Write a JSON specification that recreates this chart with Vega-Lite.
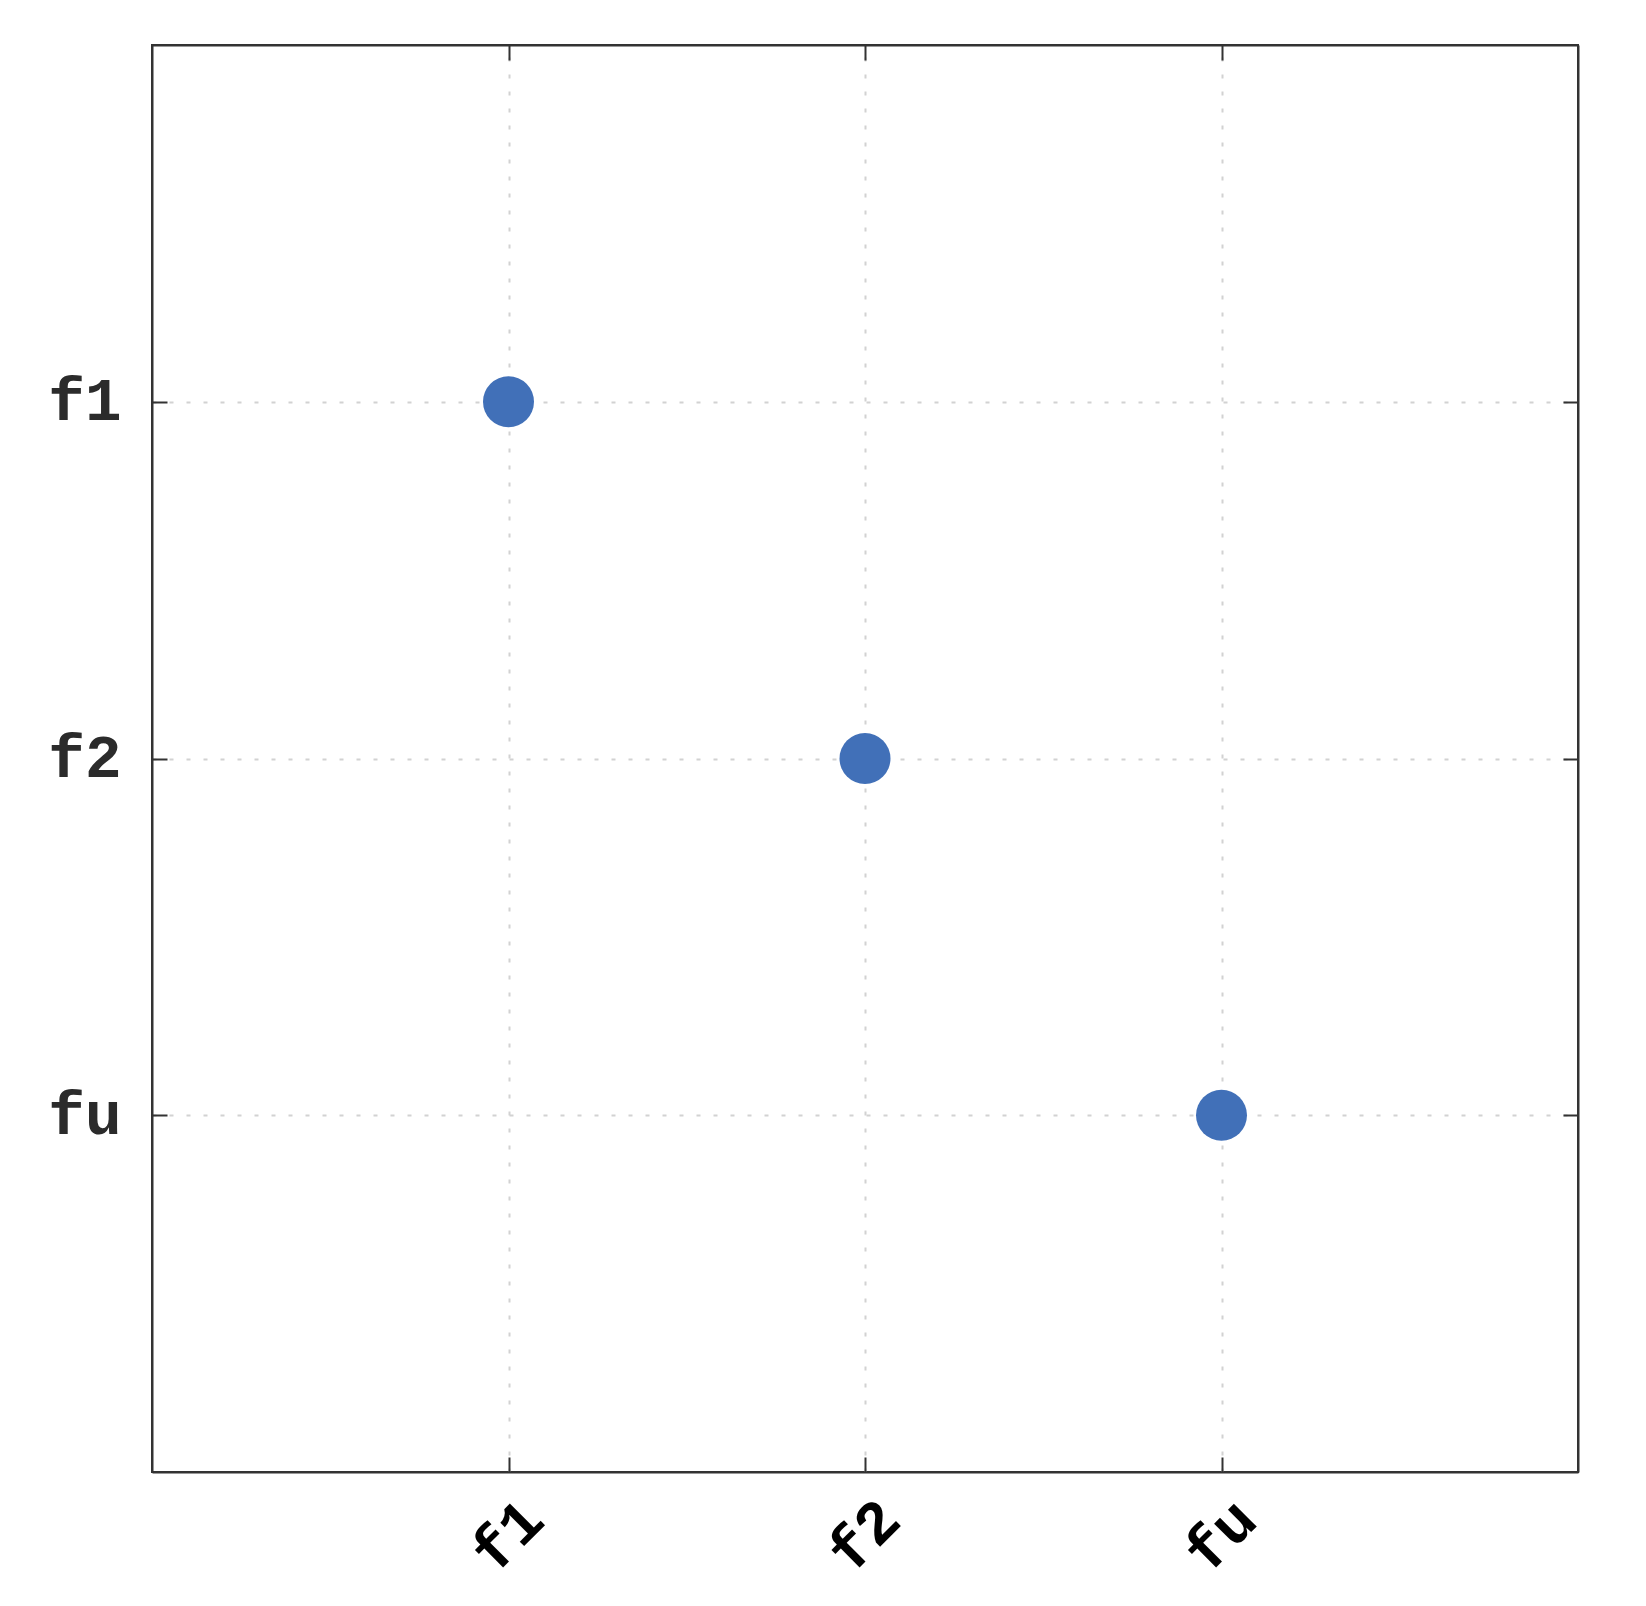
{
  "$schema": "https://vega.github.io/schema/vega-lite/v6.json",
  "autosize": "none",
  "width": 1426,
  "height": 1427,
  "padding": {"left": 152, "top": 45, "right": 68, "bottom": 134},
  "background": "white",
  "config": {
    "view": {"stroke": "#333333", "strokeWidth": 2},
    "axis": {
      "domainColor": "#333333",
      "domainWidth": 2,
      "tickColor": "#333333",
      "tickWidth": 2,
      "tickSize": -15,
      "gridColor": "#d2d2d2",
      "gridDash": [4, 13],
      "gridWidth": 2,
      "labelFont": "Liberation Mono",
      "labelFontWeight": "bold",
      "labelFontSize": 61,
      "title": null
    }
  },
  "data": {"values": [
    {"a": "f1", "b": "f1"},
    {"a": "f2", "b": "f2"},
    {"a": "fu", "b": "fu"}
  ]},
  "layer": [
    {
      "mark": {"type": "point", "filled": true, "size": 2600, "color": "#4170b8", "opacity": 1},
      "encoding": {
        "x": {"field": "a", "type": "nominal", "scale": {"type": "point", "padding": 1, "domain": ["f1", "f2", "fu"]},
              "axis": {"orient": "bottom", "labelAngle": -45, "labelColor": "#000000", "labelPadding": 32, "labelOffset": 4, "grid": true}},
        "y": {"field": "b", "type": "nominal", "scale": {"type": "point", "padding": 1, "domain": ["f1", "f2", "fu"]},
              "axis": {"orient": "left", "labelAngle": 0, "labelColor": "#2b2b2b", "labelPadding": 46, "grid": true}}
      }
    },
    {
      "mark": {"type": "point", "opacity": 0},
      "encoding": {
        "x": {"field": "a", "type": "nominal", "axis": {"orient": "top", "labels": false, "grid": false}},
        "y": {"field": "b", "type": "nominal", "axis": {"orient": "right", "labels": false, "grid": false}}
      }
    }
  ],
  "resolve": {"axis": {"x": "independent", "y": "independent"}}
}
